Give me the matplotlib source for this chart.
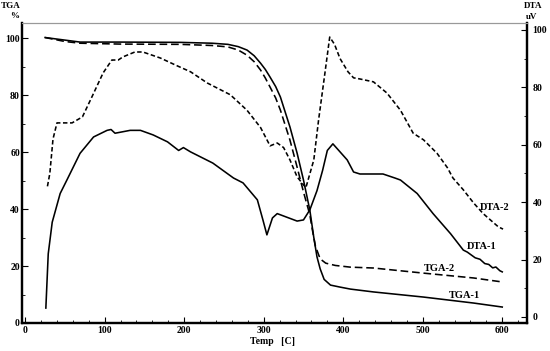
import matplotlib
matplotlib.use("Agg")
import matplotlib.pyplot as plt
from matplotlib.ticker import MultipleLocator

plt.rcParams["font.family"] = ["Liberation Serif", "DejaVu Serif"]
plt.rcParams["font.weight"] = "bold"

# ── Data ──────────────────────────────────────────────────────────────────────

tga1_t = [25, 69, 119, 195, 235, 255, 268, 279, 288, 296, 302, 308, 315, 321,
          333, 342, 350, 358, 363, 367, 371, 376, 384, 396, 409, 438, 501, 564, 600]
tga1_y = [100.2, 98.6, 98.6, 98.5, 98.2, 97.8, 97.0, 95.8, 93.8, 91.2, 89.0,
          86.3, 83.0, 79.3, 68.8, 59.6, 50.2, 39.6, 30.0, 23.2, 19.0, 15.3,
          13.3, 12.6, 11.9, 10.9, 9.1, 7.0, 5.6]

tga2_t = [25, 50, 69, 119, 195, 235, 255, 268, 279, 288, 296, 302, 308, 315,
          321, 333, 342, 350, 358, 361, 365, 371, 378, 390, 409, 438, 501, 564, 600]
tga2_y = [100.2, 98.8, 98.2, 97.9, 97.8, 97.4, 96.9, 95.8, 94.0, 91.7, 88.8,
          86.0, 82.8, 79.0, 74.7, 64.2, 54.7, 46.0, 38.0, 33.0, 27.0, 22.5,
          21.0, 20.2, 19.6, 19.3, 17.5, 15.8, 14.4]

dta1_t = [26, 29, 34, 44, 53, 69, 86, 103, 108, 113, 132, 145, 161, 179, 193,
          199, 208, 236, 249, 262, 274, 292, 299, 304, 311, 317, 342, 350, 358,
          367, 374, 380, 387, 396, 405, 413, 421, 438, 450, 465, 472, 493, 513,
          535, 551, 556, 561, 566, 572, 578, 583, 588, 592, 597, 600]
dta1_y = [3.1, 22, 33, 43, 48, 57, 62.7, 65, 65.3, 64, 65, 65, 63.4, 61, 58,
          59, 57.5, 53.6, 51, 48.4, 46.7, 40.8, 33.8, 28.6, 34.5, 36, 33.4, 33.8,
          37.3, 44, 51, 58, 60.3, 57.5, 54.7, 50.5, 49.8, 49.8, 49.8, 48.4, 47.7,
          43, 36, 29, 23.3, 22.6, 21.6, 20.6, 20.1, 18.6, 18.3, 17.1, 17.4, 16.1, 15.7]

dta2_t = [28, 31, 35, 40, 59, 72, 84, 98, 109, 117, 123, 138, 148, 170, 191,
          208, 229, 258, 279, 296, 308, 317, 325, 333, 342, 353, 363, 369, 377,
          383, 389, 396, 406, 413, 421, 438, 455, 472, 488, 501, 518, 531, 538,
          551, 564, 576, 595, 601]
dta2_y = [45.5, 50, 62, 67.6, 67.6, 69.7, 76.7, 85, 89.5, 89.5, 90.6, 92.3, 92.3,
          90.2, 87.5, 85.4, 81.5, 77.4, 72, 66, 59.6, 60.6, 59, 54.7, 48.8, 45,
          54.7, 68.6, 85, 97.5, 95, 90, 85.4, 83.3, 82.9, 81.9, 78, 72, 64, 61.7,
          57, 52, 48.4, 44.3, 39.7, 36, 31.4, 30.6]

tga_ticks = [0, 20, 40, 60, 80, 100]
dta_ticks = [0, 20, 40, 60, 80, 100]
temp_ticks = [0, 100, 200, 300, 400, 500, 600]

# ── Figure ────────────────────────────────────────────────────────────────────

fig = plt.figure(figsize=(5.5, 3.51), dpi=100)
ax = fig.add_axes([0.04, 0.0798, 0.918, 0.8547])
ax2 = ax.twinx()

lw = 1.15
ax.plot(tga1_t, tga1_y, color="black", lw=lw)
ax.plot(tga2_t, tga2_y, color="black", lw=lw, dashes=(4.8, 2.4))
ax2.plot(dta1_t, dta1_y, color="black", lw=lw)
ax2.plot(dta2_t, dta2_y, color="black", lw=lw, dashes=(2.8, 1.6))

ax.set_xlim(-4, 631)
ax.set_ylim(0, 105.3)
ax2.set_ylim(-2.1, 102.4)

ax.set_xticks(temp_ticks)
ax.set_yticks(tga_ticks)
ax2.set_yticks(dta_ticks)
ax.xaxis.set_minor_locator(MultipleLocator(20))
ax.yaxis.set_minor_locator(MultipleLocator(10))
ax2.yaxis.set_minor_locator(MultipleLocator(10))

for a in (ax, ax2):
    a.tick_params(which="major", direction="in", length=4, width=0.8,
                  labelsize=7, pad=2)
    a.tick_params(which="minor", direction="in", length=2, width=0.6)
    for s in ("left", "right", "bottom"):
        a.spines[s].set_linewidth(1.6)
    a.spines["top"].set_linewidth(0.8)
    a.spines["top"].set_color("#999999")
ax.tick_params(top=False, which="both")
ax.tick_params(axis="y", pad=1.5)
ax2.tick_params(axis="y", pad=4)

# axis titles
fig.text(1 / 550, 1 - 6 / 351, "TGA", ha="left", va="center", fontsize=6.5)
fig.text(15 / 550, 1 - 16 / 351, "%", ha="center", va="center", fontsize=6.5)
fig.text(533 / 550, 1 - 6 / 351, "DTA", ha="center", va="center", fontsize=6.5)
fig.text(532 / 550, 1 - 17 / 351, "uV", ha="center", va="center", fontsize=6.5)
fig.text(272 / 550, 1 - 342 / 351, "Temp   [C]", ha="center", va="center",
         fontsize=7)

# curve labels
ax.text(591, 40.4, "DTA-2", ha="center", va="center", fontsize=7.5)
ax.text(574, 26.7, "DTA-1", ha="center", va="center", fontsize=7.5)
ax.text(521, 19.3, "TGA-2", ha="center", va="center", fontsize=7.5)
ax.text(553, 9.8, "TGA-1", ha="center", va="center", fontsize=7.5)

fig.savefig("out.png", dpi=100)
